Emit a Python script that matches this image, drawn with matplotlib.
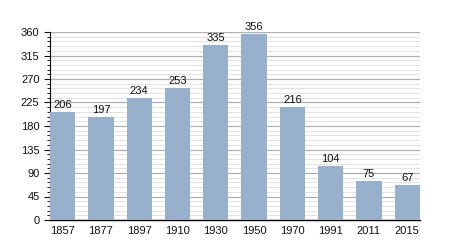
import matplotlib
matplotlib.use("Agg")
import matplotlib.pyplot as plt
from matplotlib.ticker import MultipleLocator

years = ["1857", "1877", "1897", "1910", "1930", "1950", "1970", "1991", "2011", "2015"]
population = [206, 197, 234, 253, 335, 356, 216, 104, 75, 67]
yticks = [0, 45, 90, 135, 180, 225, 270, 315, 360]

plt.rcParams['font.family'] = ['Liberation Sans', 'DejaVu Sans']

fig = plt.figure(figsize=(4.5, 2.5), dpi=100)
ax = fig.add_axes([0.111, 0.12, 0.822, 0.752])

w = 0.66
x = range(len(years))
ax.bar(x, population, width=w, color="#97b0cc", zorder=3)
for xi, v in zip(x, population):
    ax.text(xi, v + 4, str(v), ha="center", va="bottom", fontsize=8, color="#111111")

ax.set_xlim(-w / 2, len(years) - 1 + w / 2)
ax.set_ylim(0, 360)
ax.set_yticks(yticks)
ax.yaxis.set_minor_locator(MultipleLocator(9))
ax.set_xticks(list(x))
ax.set_xticklabels(years)
ax.tick_params(axis="both", labelsize=8, colors="#111111")
ax.tick_params(axis="x", length=0, pad=4)
ax.tick_params(axis="y", which="major", length=4, width=0.8)
ax.tick_params(axis="y", which="minor", length=2, width=0.6)

ax.grid(axis="y", which="major", color="#b0b0b0", linewidth=0.9, zorder=0)
ax.grid(axis="y", which="minor", color="#dedede", linewidth=0.6, zorder=0)
ax.set_axisbelow(True)

for s in ["top", "right"]:
    ax.spines[s].set_visible(False)
ax.spines["left"].set_color("black")
ax.spines["bottom"].set_color("black")
ax.spines["bottom"].set_linewidth(1.0)

fig.savefig("out.png", dpi=100)
